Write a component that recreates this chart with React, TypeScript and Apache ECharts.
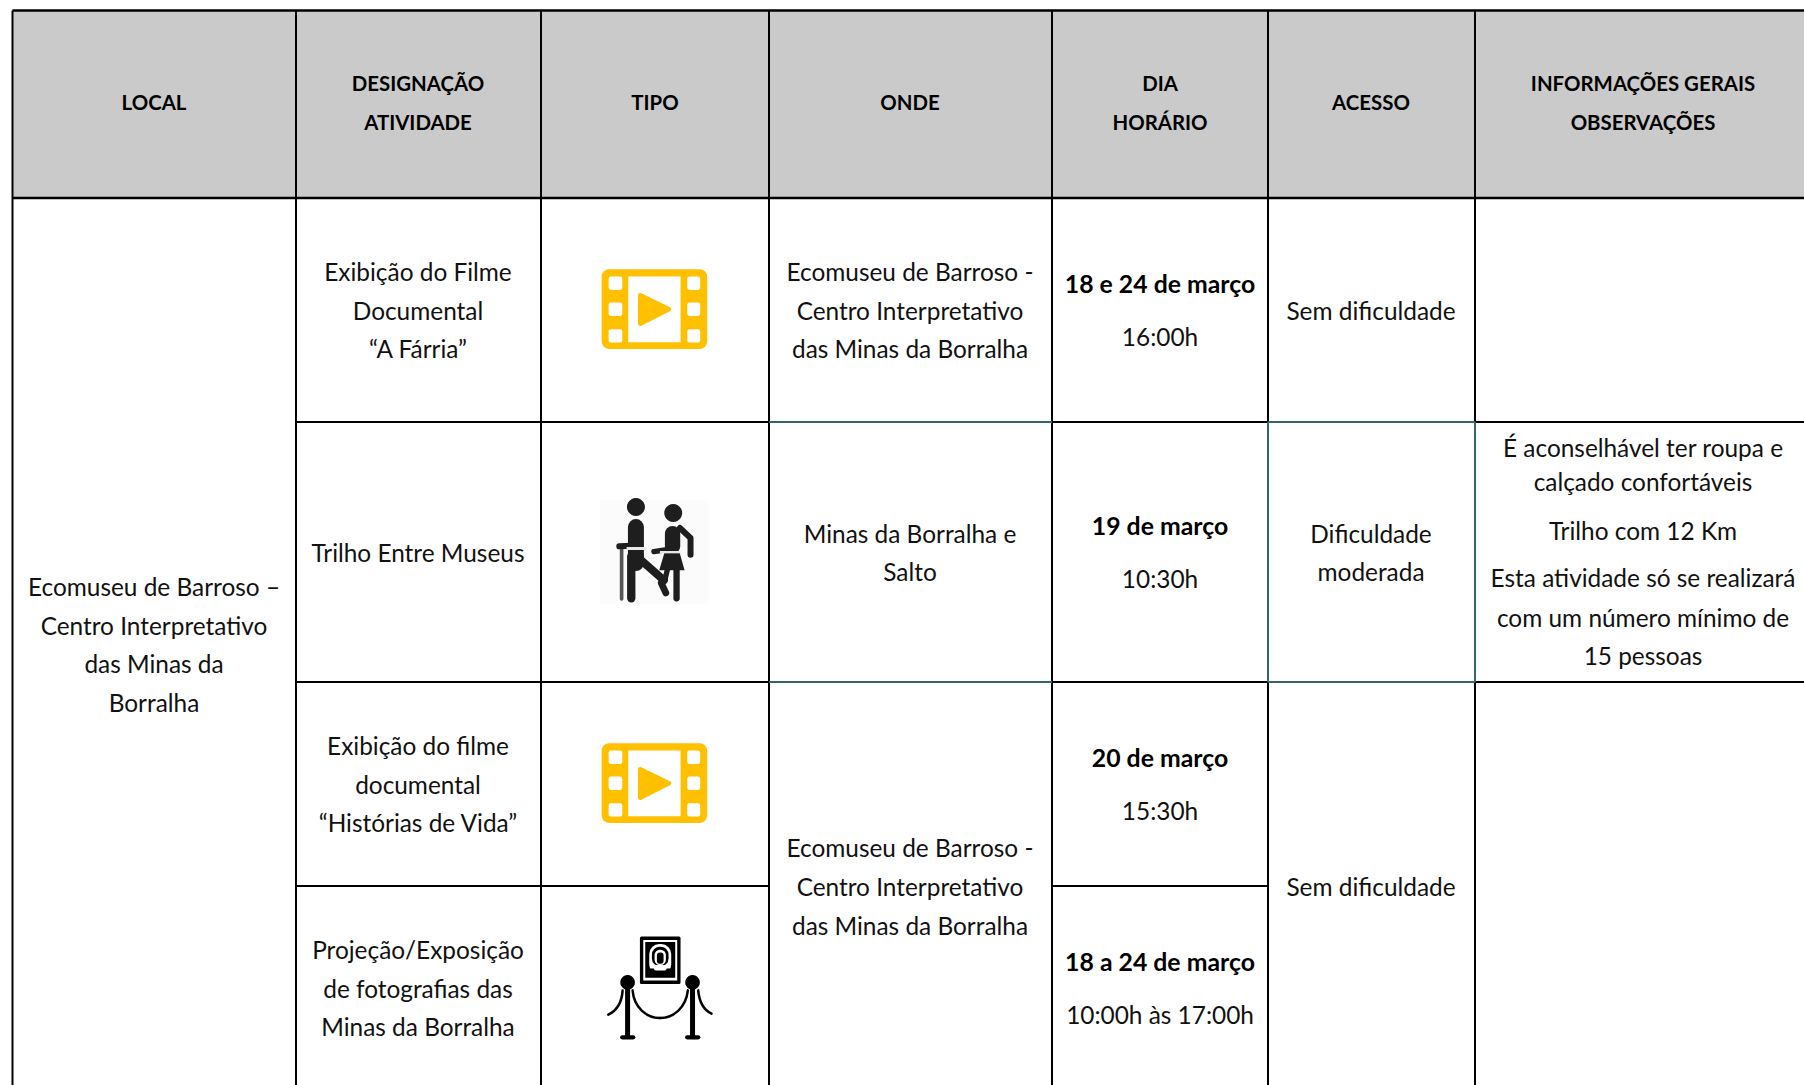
import React, { useEffect, useRef } from "react";
import * as echarts from "echarts";

// ---- table content ----
const headerCells = [
  ["LOCAL"],
  ["DESIGNAÇÃO", "ATIVIDADE"],
  ["TIPO"],
  ["ONDE"],
  ["DIA", "HORÁRIO"],
  ["ACESSO"],
  ["INFORMAÇÕES GERAIS", "OBSERVAÇÕES"],
];
const localLines = ["Ecomuseu de Barroso –", "Centro Interpretativo", "das Minas da", "Borralha"];
const activityCells = [
  ["Exibição do Filme", "Documental", "“A Fárria”"],
  ["Trilho Entre Museus"],
  ["Exibição do filme", "documental", "“Histórias de Vida”"],
  ["Projeção/Exposição", "de fotografias das", "Minas da Borralha"],
];
const ondeCells = [
  ["Ecomuseu de Barroso -", "Centro Interpretativo", "das Minas da Borralha"],
  ["Minas da Borralha e", "Salto"],
  ["Ecomuseu de Barroso -", "Centro Interpretativo", "das Minas da Borralha"],
];
const dayLabels = ["18 e 24 de março", "19 de março", "20 de março", "18 a 24 de março"];
const hourLabels = ["16:00h", "10:30h", "15:30h", "10:00h às 17:00h"];
const accessCells = [["Sem dificuldade"], ["Dificuldade", "moderada"], ["Sem dificuldade"]];
const noteLines = [
  "É aconselhável ter roupa e",
  "calçado confortáveis",
  "Trilho com 12 Km",
  "Esta atividade só se realizará",
  "com um número mínimo de",
  "15 pessoas",
];

// ---- layout ----
const W = 1804;
const H = 1085;
const colX = [12.5, 296, 541, 769, 1052, 1268, 1475, 1804];
const rowY = [10.5, 198, 422, 682, 886, 1085];
const colC = [154, 418, 655, 910, 1160, 1371, 1643];
const FONT = "Lato";
const SIZE = 24.4;
const BSIZE = 24.8;
const HSIZE = 20.4;
const LH = 38.7;
const DAYGAP = 53;
const INK = "#111111";
const TEAL = "#336666";
const GOLD = "#FFC000";

const label = (text: string, x: number, y: number, bold = false, size = SIZE) => ({
  type: "text",
  x,
  y,
  silent: true,
  style: {
    text,
    x: 0,
    y: 0,
    fill: bold ? "#000000" : INK,
    font: `${bold ? "bold " : ""}${size}px ${FONT}`,
    textAlign: "center",
    textVerticalAlign: "middle",
  },
});

const block = (lines: string[], x: number, cy: number, bold = false, size = SIZE, lh = LH) =>
  lines.map((t, i) => label(t, x, cy + (i - (lines.length - 1) / 2) * lh, bold, size));

const seg = (x1: number, y1: number, x2: number, y2: number, color = "#000000", w = 2) => ({
  type: "line",
  silent: true,
  shape: { x1, y1, x2, y2 },
  style: { stroke: color, lineWidth: w },
});

const rr = (x: number, y: number, x2: number, y2: number, r: number, fill: string) => ({
  type: "rect",
  silent: true,
  shape: { x, y, width: x2 - x, height: y2 - y, r },
  style: { fill },
});

const pl = (points: number[][], w: number, color = "#1E1E1E") => ({
  type: "polyline",
  silent: true,
  shape: { points },
  style: { stroke: color, lineWidth: w, fill: "none", lineCap: "round", lineJoin: "round" },
});

const dot = (cx: number, cy: number, r: number, fill = "#1E1E1E") => ({
  type: "circle",
  silent: true,
  shape: { cx, cy, r },
  style: { fill },
});

const curve = (
  x1: number, y1: number, cx1: number, cy1: number, cx2: number, cy2: number, x2: number, y2: number, w: number,
) => ({
  type: "bezierCurve",
  silent: true,
  shape: { x1, y1, cpx1: cx1, cpy1: cy1, cpx2: cx2, cpy2: cy2, x2, y2 },
  style: { stroke: "#000000", lineWidth: w, fill: "none", lineCap: "round" },
});

// icon drawings use a 3x local grid
const filmIcon = (x: number, y: number) => {
  const holes: any[] = [];
  [140, 218, 298].forEach((hy) => {
    holes.push(rr(146, hy, 187, hy + 40, 7, "#FFFFFF"));
    holes.push(rr(382, hy, 421, hy + 40, 7, "#FFFFFF"));
  });
  return {
    type: "group",
    x,
    y,
    scaleX: 1 / 3,
    scaleY: 1 / 3,
    silent: true,
    children: [
      rr(125, 118, 442, 357, 22, GOLD),
      ...holes,
      rr(205, 140, 362, 337, 0, "#FFFFFF"),
      {
        type: "polygon",
        silent: true,
        shape: { points: [[241, 196], [327, 238], [241, 281]] },
        style: { fill: GOLD, stroke: GOLD, lineWidth: 14, lineJoin: "round" },
      },
    ],
  };
};

const walkersIcon = (x: number, y: number) => ({
  type: "group",
  x,
  y,
  scaleX: 1 / 3,
  scaleY: 1 / 3,
  silent: true,
  children: [
    rr(120, 810, 447, 1122, 0, "#FBFBFB"),
    // cane
    pl([[185, 950], [185, 1108]], 11, "#555555"),
    pl([[178, 950], [215, 948]], 18),
    // man
    dot(228, 832, 27),
    pl([[228, 892], [228, 1000]], 48),
    pl([[214, 980], [214, 1106]], 25),
    pl([[236, 985], [312, 1052]], 24),
    pl([[304, 1060], [318, 1090]], 20),
    // woman
    dot(340, 850, 27),
    pl([[338, 912], [338, 950]], 46),
    pl([[360, 895], [392, 925], [392, 975]], 18),
    pl([[282, 966], [330, 958]], 16),
    {
      type: "polygon",
      silent: true,
      shape: { points: [[315, 965], [358, 965], [374, 1022], [298, 1022]] },
      style: { fill: "#1E1E1E" },
    },
    pl([[350, 1020], [350, 1106]], 19),
    pl([[322, 1022], [316, 1046]], 16),
    // waist bands
    { type: "rect", silent: true, shape: { x: 200, y: 952, width: 60, height: 9 }, style: { fill: "#E8E8E8" } },
    { type: "rect", silent: true, shape: { x: 300, y: 964, width: 62, height: 7 }, style: { fill: "#E8E8E8" } },
  ],
});

const ropeIcon = (x: number, y: number) => ({
  type: "group",
  x,
  y,
  scaleX: 1 / 3,
  scaleY: 1 / 3,
  silent: true,
  children: [
    rr(240, 710, 362, 853, 5, "#000000"),
    rr(250, 721, 352, 842, 0, "#FFFFFF"),
    rr(256, 727, 346, 834, 0, "#000000"),
    rr(268, 733, 334, 824, 30, "#FFFFFF"),
    rr(276, 741, 326, 800, 24, "#000000"),
    rr(284, 750, 318, 796, 16, "#FFFFFF"),
    rr(291, 758, 311, 792, 9, "#000000"),
    rr(262, 806, 340, 832, 10, "#000000"),
    rr(282, 796, 320, 812, 6, "#FFFFFF"),
    // posts
    dot(203, 848, 22, "#000000"),
    dot(398, 848, 22, "#000000"),
    pl([[203, 865], [203, 1010]], 15, "#000000"),
    pl([[398, 865], [398, 1010]], 15, "#000000"),
    pl([[187, 1013], [220, 1013]], 13, "#000000"),
    pl([[382, 1013], [415, 1013]], 13, "#000000"),
    // ropes
    curve(218, 872, 222, 925, 262, 955, 300, 955, 7.5),
    curve(300, 955, 340, 955, 378, 925, 384, 872, 7.5),
    curve(188, 872, 186, 905, 172, 932, 145, 945, 7.5),
    curve(415, 872, 418, 905, 430, 930, 455, 942, 7.5),
  ],
});

const buildGraphic = () => {
  const els: any[] = [];
  // header band
  els.push({
    type: "rect",
    silent: true,
    shape: { x: colX[0], y: rowY[0], width: W - colX[0], height: rowY[1] - rowY[0] },
    style: { fill: "#CACACA" },
  });
  // rules
  els.push(seg(colX[0], rowY[0], W, rowY[0], "#000000", 2.4));
  els.push(seg(colX[0], rowY[1], W, rowY[1], "#000000", 2.4));
  colX.slice(0, 7).forEach((x) => els.push(seg(x, rowY[0], x, H)));
  els.push(seg(colX[1], rowY[2], W, rowY[2]));
  els.push(seg(colX[1], rowY[3], W, rowY[3]));
  els.push(seg(colX[1], rowY[4], colX[3], rowY[4]));
  els.push(seg(colX[4], rowY[4], colX[5], rowY[4]));
  // teal borders
  els.push(seg(colX[3], rowY[2], colX[4], rowY[2], TEAL));
  els.push(seg(colX[3], rowY[3], colX[4], rowY[3], TEAL));
  els.push(seg(colX[5], rowY[2], colX[6], rowY[2], TEAL));
  els.push(seg(colX[5], rowY[3], colX[6], rowY[3], TEAL));
  els.push(seg(colX[5], rowY[2], colX[5], rowY[3], TEAL));
  els.push(seg(colX[6], rowY[2], colX[6], rowY[3], TEAL));

  // headers
  headerCells.forEach((lines, i) => els.push(...block(lines, colC[i], 102.2, true, HSIZE)));
  // local
  els.push(...block(localLines, colC[0], 644.5, false));
  // activities
  const actC = [310, 552, 784, 988];
  activityCells.forEach((lines, i) => els.push(...block(lines, colC[1], actC[i])));
  // onde
  const ondeC = [310, 552.5, 886.5];
  ondeCells.forEach((lines, i) => els.push(...block(lines, colC[3], ondeC[i])));
  // day + hour
  const dayC = [283.5, 525.5, 757.5, 961.5];
  dayLabels.forEach((t, i) => {
    els.push(label(t, colC[4], dayC[i], true, BSIZE));
    els.push(label(hourLabels[i], colC[4], dayC[i] + DAYGAP));
  });
  // access
  const accC = [310, 552.5, 886.5];
  accessCells.forEach((lines, i) => els.push(...block(lines, colC[5], accC[i])));
  // notes
  const noteY = [447.5, 481, 530, 577, 617.5, 655.5];
  noteLines.forEach((t, i) => els.push(label(t, colC[6], noteY[i])));
  // icons
  els.push(filmIcon(560, 230));
  els.push(walkersIcon(560, 230));
  els.push(filmIcon(560, 704));
  els.push(ropeIcon(560, 700));
  return els;
};

export default function App() {
  const ref = useRef<HTMLDivElement>(null);
  useEffect(() => {
    const chart = echarts.init(ref.current!, undefined, { renderer: "svg" });
    chart.setOption({ animation: false, backgroundColor: "#FFFFFF", graphic: { elements: buildGraphic() } });
    return () => chart.dispose();
  }, []);
  return <div ref={ref} style={{ position: "fixed", left: 0, top: 0, width: W, height: H }} />;
}
